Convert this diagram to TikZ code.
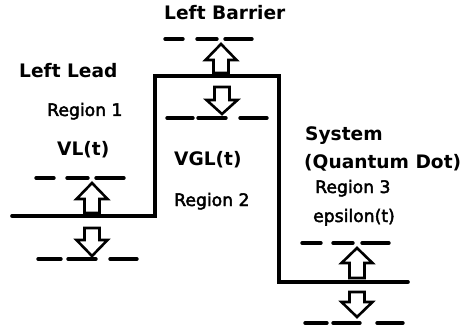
\documentclass[tikz,border=0pt]{standalone}
\usepackage{fontspec}
\setmainfont{DejaVu Sans}
\newfontfamily\semibfont[FakeBold=2.5]{DejaVu Sans}
\begin{document}
\begin{tikzpicture}[x=1pt,y=-1pt,
  profile/.style={line width=3.6pt,line join=miter,line cap=round},
  dashseg/.style={line width=3.4pt,line cap=round},
  blockarrow/.style={line width=2.6pt,fill=white,line join=miter},
  boldlbl/.style={font=\fontsize{18.6}{22}\selectfont\bfseries,inner sep=0pt,anchor=base west},
  reglbl/.style={font=\fontsize{17.2}{20}\semibfont,inner sep=0pt,anchor=base west}]
\useasboundingbox (0,0) rectangle (473,331);
% energy profile
\coordinate (p1) at (12,216);
\coordinate (p2) at (155,216);
\coordinate (p3) at (155,76);
\coordinate (p4) at (279,76);
\coordinate (p5) at (279,282);
\coordinate (p6) at (408,282);
\draw[profile] (p1) -- (p2) -- (p3) -- (p4) -- (p5) -- (p6);
% dashed levels
\newcommand\dashlevel[7]{%
  \draw[dashseg] (#2,#1) -- (#3,#1);
  \draw[dashseg] (#4,#1) -- (#5,#1);
  \draw[dashseg] (#6,#1) -- (#7,#1);}
\dashlevel{178}{36}{54}{67}{88}{96}{124}
\dashlevel{259}{38}{61}{68}{96}{110}{137}
\dashlevel{39}{165}{183}{197}{217}{225}{252}
\dashlevel{118}{167}{193}{198}{226}{240}{267}
\dashlevel{243}{302}{321}{333}{353}{362}{389}
\dashlevel{323}{305}{327}{333}{360}{377}{403}
% block arrows: #1 cx, #2 tip, #3 head base, #4 shaft end
\newcommand\blockarr[4]{%
  \draw[blockarrow] (#1,#2) -- ({#1+15.5},#3) -- ({#1+7.5},#3) -- ({#1+7.5},#4)
    -- ({#1-7.5},#4) -- ({#1-7.5},#3) -- ({#1-15.5},#3) -- cycle;}
\blockarr{92}{183}{199}{213}
\blockarr{92}{256}{240}{228}
\blockarr{221}{44}{60}{73}
\blockarr{222}{114}{100}{87}
\blockarr{357}{248}{263}{278}
\blockarr{357}{317}{302}{292}
% labels
\node[boldlbl] (lb) at (164,20) {Left Barrier};
\node[boldlbl] (ll) at (19,78) {Left Lead};
\node[reglbl] (r1) at (47,116) {Region 1};
\node[boldlbl] (vl) at (57,155) {VL(t)};
\node[boldlbl] (vgl) at (174,165) {VGL(t)};
\node[reglbl] (r2) at (174,206) {Region 2};
\node[boldlbl] (sys) at (305,141) {System};
\node[boldlbl] (qd) at (304,168) {(Quantum Dot)};
\node[reglbl] (r3) at (315,193) {Region 3};
\node[reglbl] (eps) at (313,222) {epsilon(t)};
\end{tikzpicture}
\end{document}
